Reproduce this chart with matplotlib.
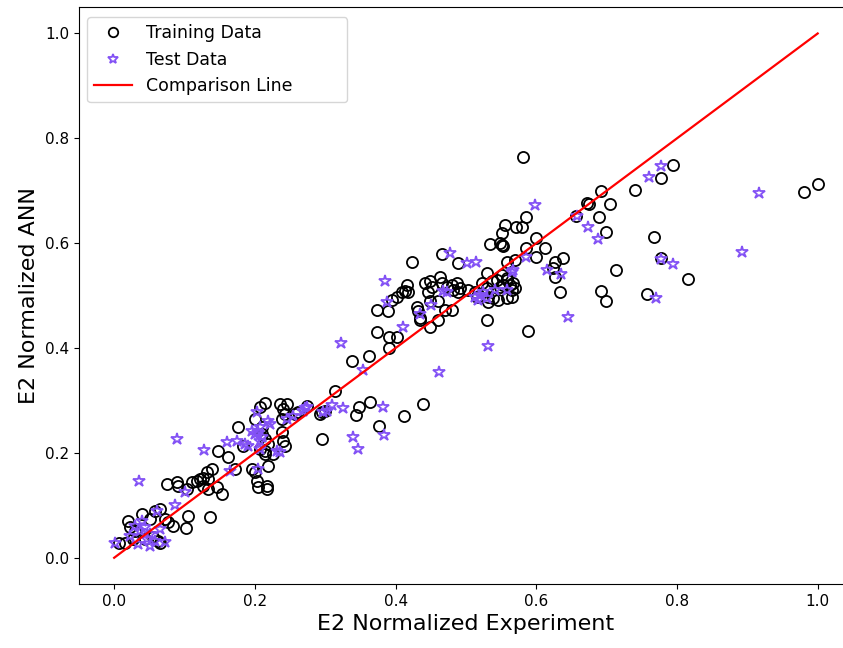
import numpy as np
import matplotlib
matplotlib.use("Agg")
import matplotlib.pyplot as plt

# training data (experiment, ANN)
train_x = [0.007, 0.016, 0.020, 0.023, 0.030, 0.027, 0.040, 0.044, 0.051, 0.055,
           0.058, 0.065, 0.065, 0.072, 0.077, 0.084, 0.102, 0.105, 0.136, 0.075,
           0.089, 0.091, 0.111, 0.118, 0.122, 0.126, 0.134, 0.132, 0.126, 0.104,
           0.134, 0.146, 0.153, 0.139, 0.172, 0.063,
           0.214, 0.207, 0.200, 0.236, 0.240, 0.243, 0.246, 0.239, 0.257, 0.261,
           0.293, 0.295, 0.300, 0.295, 0.176, 0.210, 0.210, 0.214, 0.219, 0.214,
           0.239, 0.240, 0.243, 0.148, 0.162, 0.183, 0.207, 0.214, 0.226, 0.196,
           0.200, 0.219, 0.205, 0.217, 0.217, 0.203,
           0.374, 0.391, 0.402, 0.391, 0.362, 0.338, 0.314, 0.274, 0.348, 0.344,
           0.364, 0.376, 0.412, 0.439, 0.435, 0.449, 0.460,
           0.534, 0.551, 0.466, 0.423, 0.489, 0.558, 0.570, 0.530, 0.416, 0.413,
           0.418, 0.409, 0.402, 0.442, 0.449, 0.452, 0.463, 0.466, 0.473, 0.446,
           0.449, 0.480, 0.487, 0.491, 0.489, 0.482, 0.430, 0.432, 0.435, 0.460,
           0.480, 0.470, 0.374, 0.389, 0.395,
           0.503, 0.513, 0.516, 0.523, 0.530, 0.537, 0.544, 0.548, 0.558, 0.563,
           0.565, 0.531, 0.538, 0.545, 0.531, 0.558, 0.565, 0.530,
           0.581, 0.692, 0.741, 0.672, 0.675, 0.705, 0.656, 0.689, 0.585, 0.555,
           0.571, 0.580, 0.699, 0.599, 0.551, 0.548, 0.553, 0.585, 0.612, 0.599,
           0.626, 0.638, 0.624, 0.626, 0.714, 0.551, 0.558, 0.567, 0.570, 0.553,
           0.634, 0.692, 0.699, 0.588,
           0.795, 0.777, 0.980, 1.000, 0.768, 0.777, 0.815, 0.757]
train_y = [0.029, 0.029, 0.070, 0.059, 0.051, 0.036, 0.084, 0.036, 0.074, 0.040,
           0.089, 0.093, 0.029, 0.074, 0.068, 0.061, 0.057, 0.080, 0.078, 0.141,
           0.144, 0.137, 0.144, 0.146, 0.150, 0.152, 0.150, 0.163, 0.137, 0.131,
           0.131, 0.135, 0.122, 0.169, 0.169, 0.032,
           0.295, 0.287, 0.264, 0.293, 0.283, 0.274, 0.293, 0.264, 0.274, 0.278,
           0.274, 0.278, 0.279, 0.226, 0.249, 0.249, 0.236, 0.226, 0.217, 0.203,
           0.240, 0.222, 0.213, 0.203, 0.192, 0.213, 0.207, 0.198, 0.198, 0.169,
           0.164, 0.175, 0.135, 0.137, 0.131, 0.146,
           0.430, 0.422, 0.422, 0.401, 0.384, 0.376, 0.319, 0.289, 0.287, 0.272,
           0.297, 0.251, 0.270, 0.293, 0.454, 0.441, 0.454,
           0.599, 0.597, 0.580, 0.565, 0.563, 0.565, 0.568, 0.544, 0.521, 0.508,
           0.506, 0.506, 0.498, 0.525, 0.527, 0.517, 0.536, 0.525, 0.517, 0.506,
           0.489, 0.521, 0.525, 0.515, 0.506, 0.511, 0.479, 0.470, 0.458, 0.489,
           0.473, 0.473, 0.473, 0.470, 0.492,
           0.511, 0.506, 0.498, 0.525, 0.515, 0.527, 0.530, 0.517, 0.530, 0.521,
           0.511, 0.498, 0.496, 0.492, 0.487, 0.496, 0.498, 0.454,
           0.764, 0.700, 0.702, 0.677, 0.675, 0.675, 0.652, 0.650, 0.650, 0.635,
           0.631, 0.631, 0.622, 0.610, 0.620, 0.601, 0.595, 0.591, 0.591, 0.574,
           0.565, 0.572, 0.553, 0.536, 0.548, 0.540, 0.534, 0.525, 0.515, 0.521,
           0.506, 0.508, 0.489, 0.433,
           0.749, 0.724, 0.698, 0.713, 0.612, 0.572, 0.532, 0.504]

# test data
test_x = [0.089, 0.128, 0.036, 0.101, 0.087, 0.061, 0.040, 0.030, 0.037, 0.044,
          0.051, 0.047, 0.058, 0.023, 0.001, 0.051, 0.072, 0.065, 0.034,
          0.203, 0.207, 0.219, 0.222, 0.196, 0.200, 0.205, 0.210, 0.207, 0.161,
          0.175, 0.186, 0.190, 0.207, 0.232, 0.236, 0.205, 0.165, 0.246, 0.254,
          0.268, 0.274, 0.297, 0.303,
          0.410, 0.322, 0.354, 0.462, 0.271, 0.310, 0.325, 0.382, 0.339, 0.347,
          0.384,
          0.477, 0.501, 0.514, 0.565, 0.385, 0.388, 0.450, 0.435, 0.467, 0.473,
          0.513, 0.520, 0.524, 0.530, 0.517, 0.541, 0.558, 0.531,
          0.598, 0.658, 0.673, 0.688, 0.585, 0.567, 0.615, 0.635, 0.645,
          0.777, 0.760, 0.916, 0.892, 0.777, 0.795, 0.770]
test_y = [0.226, 0.205, 0.146, 0.125, 0.101, 0.089, 0.070, 0.061, 0.051, 0.059,
          0.046, 0.036, 0.032, 0.042, 0.029, 0.023, 0.030, 0.055, 0.027,
          0.278, 0.249, 0.260, 0.255, 0.241, 0.236, 0.240, 0.230, 0.222, 0.221,
          0.222, 0.217, 0.213, 0.207, 0.203, 0.202, 0.169, 0.165, 0.264, 0.270,
          0.279, 0.287, 0.278, 0.279,
          0.441, 0.409, 0.359, 0.354, 0.285, 0.291, 0.285, 0.287, 0.230, 0.207,
          0.234,
          0.582, 0.563, 0.565, 0.546, 0.527, 0.487, 0.483, 0.464, 0.508, 0.506,
          0.498, 0.502, 0.506, 0.496, 0.492, 0.511, 0.511, 0.403,
          0.673, 0.652, 0.631, 0.608, 0.574, 0.548, 0.548, 0.542, 0.460,
          0.747, 0.726, 0.696, 0.584, 0.570, 0.561, 0.496]

line_x = [0.0, 1.0]
line_y = [0.0, 1.0]

fig = plt.figure(figsize=(8.43, 6.48), dpi=100)
# axes run a little past the right edge, like the cropped original
ax = fig.add_axes([0.0937, 0.0988, 0.918, 0.890])

ax.plot(train_x, train_y, linestyle="none", marker="o", markersize=8,
        markerfacecolor="none", markeredgecolor="black", markeredgewidth=1.3,
        label="Training Data")
ax.plot(test_x, test_y, linestyle="none", marker="*", markersize=9,
        markerfacecolor="none", markeredgecolor="#8352f5", markeredgewidth=1.3,
        label="Test Data")
ax.plot(line_x, line_y, color="red", linewidth=1.6, label="Comparison Line")

ax.set_xlim(-0.05, 1.05)
ax.set_ylim(-0.05, 1.05)
ax.set_xticks(np.arange(0, 1.01, 0.2))
ax.set_yticks(np.arange(0, 1.01, 0.2))
ax.tick_params(labelsize=11)
ax.set_xlabel("E2 Normalized Experiment", fontsize=16)
ax.set_ylabel("E2 Normalized ANN", fontsize=16)
# wide legend box like the original
ax.legend(loc="upper left", bbox_to_anchor=(0.0105, 0.0, 0.336, 0.983),
          mode="expand", borderaxespad=0, fontsize=12.5, handlelength=2.2,
          markerscale=0.85)

fig.savefig("out.png", dpi=100)
